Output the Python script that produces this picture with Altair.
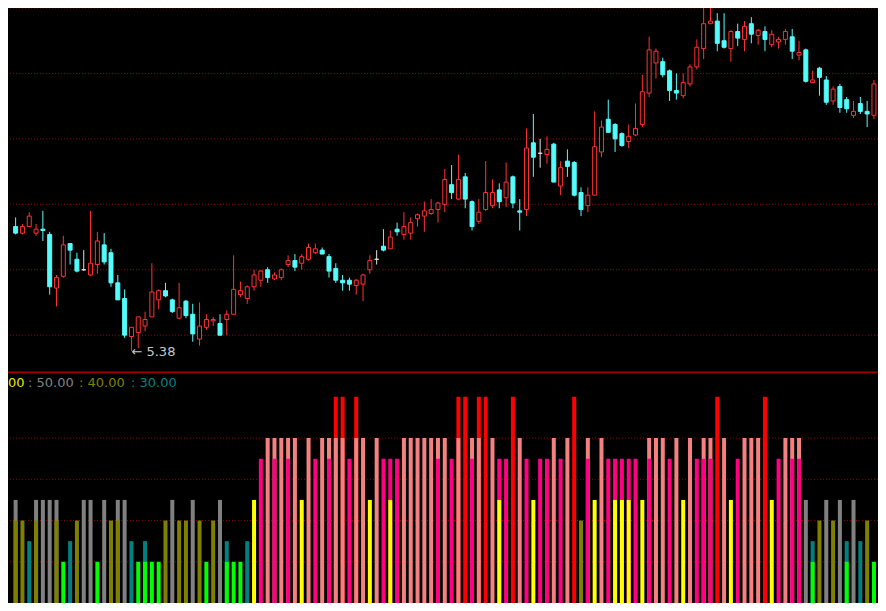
import altair as alt
import pandas as pd

# ---------------- data ----------------
opens = [6.33, 6.28, 6.33, 6.28, 6.31, 6.27, 5.86, 5.95, 6.20, 6.08,
         6.00, 5.96, 6.04, 6.19, 6.13, 5.90, 5.78, 5.49, 5.52, 5.57,
         5.64, 5.77, 5.84, 5.77, 5.63, 5.76, 5.66, 5.47, 5.56, 5.61,
         5.59, 5.62, 5.66, 5.81, 5.78, 5.87, 5.92, 6.00, 5.93, 5.94,
         6.04, 6.07, 6.05, 6.08, 6.13, 6.15, 6.10, 6.01, 5.92, 5.92,
         5.88, 5.89, 6.00, 6.08, 6.18, 6.16, 6.31, 6.27, 6.28, 6.39,
         6.41, 6.43, 6.46, 6.50, 6.65, 6.54, 6.71, 6.52, 6.37, 6.46,
         6.49, 6.61, 6.55, 6.71, 6.45, 6.46, 6.97, 6.89, 6.88, 6.96,
         6.64, 6.83, 6.82, 6.59, 6.49, 6.57, 6.90, 7.15, 7.11, 7.04,
         6.98, 7.03, 7.11, 7.35, 7.58, 7.59, 7.52, 7.37, 7.33, 7.42,
         7.55, 7.69, 7.88, 7.90, 7.75, 7.69, 7.82, 7.76, 7.88, 7.79,
         7.82, 7.72, 7.74, 7.76, 7.78, 7.64, 7.68, 7.43, 7.54, 7.45,
         7.29, 7.40, 7.30, 7.18, 7.27, 7.21, 7.18]
highs = [6.40, 6.35, 6.44, 6.35, 6.45, 6.29, 5.96, 6.26, 6.20, 6.13,
         6.15, 6.45, 6.29, 6.28, 6.16, 5.96, 5.85, 5.56, 5.64, 5.68,
         6.05, 5.85, 5.90, 5.78, 5.90, 5.77, 5.74, 5.75, 5.66, 5.64,
         5.66, 5.69, 6.11, 5.91, 5.88, 6.00, 6.00, 6.02, 5.98, 6.01,
         6.11, 6.12, 6.12, 6.20, 6.20, 6.17, 6.12, 6.05, 5.96, 5.94,
         5.93, 5.97, 6.11, 6.15, 6.31, 6.30, 6.36, 6.44, 6.40, 6.43,
         6.52, 6.54, 6.52, 6.77, 6.80, 6.88, 6.74, 6.53, 6.54, 6.83,
         6.69, 6.66, 6.82, 6.72, 6.54, 7.08, 7.19, 7.00, 7.02, 6.97,
         6.83, 6.92, 6.83, 6.63, 6.63, 7.21, 7.14, 7.30, 7.12, 7.05,
         7.11, 7.27, 7.49, 7.78, 7.69, 7.62, 7.53, 7.50, 7.50, 7.57,
         7.76, 8.05, 8.08, 7.96, 7.96, 7.83, 7.88, 7.90, 7.93, 7.84,
         7.86, 7.83, 7.78, 7.84, 7.84, 7.75, 7.69, 7.52, 7.55, 7.48,
         7.40, 7.42, 7.32, 7.29, 7.32, 7.29, 7.45]
lows = [6.27, 6.27, 6.33, 6.26, 6.22, 5.81, 5.72, 5.94, 6.04, 5.98,
        5.99, 5.95, 5.97, 6.04, 5.87, 5.77, 5.48, 5.38, 5.40, 5.53,
        5.64, 5.70, 5.79, 5.67, 5.62, 5.63, 5.45, 5.42, 5.54, 5.57,
        5.50, 5.50, 5.66, 5.79, 5.74, 5.84, 5.87, 5.90, 5.92, 5.92,
        6.02, 5.99, 6.00, 6.07, 6.12, 6.12, 5.94, 5.90, 5.84, 5.84,
        5.81, 5.76, 5.97, 6.04, 6.14, 6.16, 6.26, 6.23, 6.23, 6.33,
        6.29, 6.42, 6.36, 6.44, 6.54, 6.53, 6.47, 6.30, 6.35, 6.45,
        6.47, 6.47, 6.48, 6.47, 6.30, 6.41, 6.71, 6.78, 6.81, 6.67,
        6.57, 6.71, 6.56, 6.41, 6.44, 6.57, 6.86, 7.05, 6.90, 6.94,
        6.93, 7.02, 7.09, 7.32, 7.46, 7.47, 7.29, 7.30, 7.31, 7.40,
        7.53, 7.61, 7.88, 7.67, 7.69, 7.59, 7.71, 7.67, 7.73, 7.72,
        7.67, 7.70, 7.69, 7.72, 7.61, 7.60, 7.43, 7.43, 7.33, 7.26,
        7.26, 7.20, 7.20, 7.16, 7.19, 7.09, 7.15]
closes = [6.28, 6.33, 6.41, 6.31, 6.30, 5.87, 5.94, 6.19, 6.15, 5.99,
          6.00, 6.05, 6.22, 6.06, 5.90, 5.77, 5.50, 5.56, 5.64, 5.62,
          5.83, 5.84, 5.80, 5.68, 5.71, 5.65, 5.51, 5.57, 5.62, 5.62,
          5.50, 5.66, 5.85, 5.84, 5.87, 5.96, 5.99, 5.94, 5.96, 6.00,
          6.07, 6.02, 6.10, 6.17, 6.16, 6.12, 5.99, 5.92, 5.90, 5.89,
          5.92, 5.96, 6.07, 6.08, 6.15, 6.25, 6.29, 6.33, 6.36, 6.42,
          6.45, 6.46, 6.51, 6.69, 6.59, 6.69, 6.54, 6.33, 6.44, 6.59,
          6.59, 6.52, 6.67, 6.51, 6.44, 6.93, 6.86, 6.89, 6.92, 6.67,
          6.78, 6.79, 6.57, 6.46, 6.57, 6.94, 7.09, 7.05, 7.00, 6.95,
          7.02, 7.08, 7.36, 7.68, 7.67, 7.49, 7.37, 7.35, 7.43, 7.55,
          7.70, 7.88, 7.90, 7.73, 7.70, 7.82, 7.77, 7.86, 7.80, 7.83,
          7.76, 7.80, 7.76, 7.82, 7.67, 7.66, 7.44, 7.45, 7.47, 7.28,
          7.38, 7.24, 7.23, 7.21, 7.21, 7.19, 7.42]

# indicator: letters = overlaid bar levels shown on each day
ind_codes = ["go", "o", "t", "go", "g", "g", "go", "n", "t", "o",
             "g", "g", "n", "g", "o", "go", "g", "t", "n", "tn",
             "n", "n", "o", "g", "o", "o", "g", "o", "n", "o",
             "g", "tn", "n", "n", "t", "y", "p", "s", "sp", "s",
             "sp", "s", "y", "s", "p", "s", "sp", "rs", "rs", "p",
             "rs", "s", "y", "s", "p", "py", "p", "s", "s", "s",
             "s", "s", "sp", "s", "p", "rs", "r", "sp", "rs", "r",
             "s", "py", "p", "r", "s", "p", "y", "p", "p", "s",
             "p", "s", "r", "o", "sp", "y", "s", "p", "py", "py",
             "py", "p", "y", "sp", "s", "s", "p", "s", "y", "s",
             "p", "sp", "sp", "r", "s", "y", "p", "s", "s", "s",
             "r", "y", "p", "s", "sp", "sp", "g", "tn", "o", "g",
             "o", "g", "tn", "g", "t", "o", "n"]
ind_kinds = ["r", "s", "p", "y", "g", "o", "t", "n"]
ind_levels = [100, 80, 70, 50, 50, 40, 30, 20]
ind_colors = ["#ff0000", "#f58080", "#ff0080", "#ffff00",
              "#808080", "#808000", "#008080", "#00ff00"]

price_grid = [5.5, 6.0, 6.5, 7.0, 7.5, 8.0]
ind_grid = [20, 40, 60, 80]
legend_labels = ["00", ": 50.00", ": 40.00", ": 30.00"]
legend_colors = ["#e8e800", "#808080", "#808000", "#008080"]

# ---------------- layout ----------------
W, H = 870, 595
X_DOMAIN = [0.615, 126.86]
PRICE_DOMAIN = [5.2173, 8.0]
PRICE_RANGE = [364.2, 0]
IND_DOMAIN = [0, 100]
IND_RANGE = [595, 388.85]

n = len(opens)
df = pd.DataFrame({"i": list(range(1, n + 1)), "open": opens, "high": highs,
                   "low": lows, "close": closes})
df["dir"] = ["up" if c > o else ("down" if c < o else "flat")
             for o, c in zip(df["open"], df["close"])]
df["top"] = df[["open", "close"]].max(axis=1)
df["bot"] = df[["open", "close"]].min(axis=1)

lvl = dict(zip(ind_kinds, ind_levels))
rows = []
for i, code in enumerate(ind_codes, start=1):
    for ch in code:
        rows.append({"i": i, "level": lvl[ch], "kind": ch})
ind_df = pd.DataFrame(rows).sort_values("level", ascending=False, kind="stable")

xs = alt.Scale(domain=X_DOMAIN, range=[0, W], nice=False, zero=False)
ps = alt.Scale(domain=PRICE_DOMAIN, range=PRICE_RANGE, nice=False, zero=False)
iscale = alt.Scale(domain=IND_DOMAIN, range=IND_RANGE, nice=False, zero=True)
X = alt.X("i:Q", scale=xs, axis=None)

dir_stroke = alt.Scale(domain=["up", "down", "flat"], range=["#ff3232", "#54fcfc", "#e0e0e0"])
dir_fill = alt.Scale(domain=["up", "down", "flat"], range=["#000000", "#54fcfc", "#e0e0e0"])

pgrid = alt.Chart(pd.DataFrame({"p": price_grid})).mark_rule(
    color="#8c0000", strokeDash=[1, 2], strokeWidth=1
).encode(y=alt.Y("p:Q", scale=ps, axis=None))

sep = alt.Chart(pd.DataFrame({"p": [PRICE_DOMAIN[0]]})).mark_rule(
    color="#a00000", strokeWidth=1.5
).encode(y=alt.Y("p:Q", scale=ps, axis=None))

wick = alt.Chart(df).mark_rule(strokeWidth=1, clip=True).encode(
    x=X,
    y=alt.Y("low:Q", scale=ps, axis=None),
    y2="high:Q",
    stroke=alt.Stroke("dir:N", scale=dir_stroke, legend=None),
)

body = alt.Chart(df).mark_bar(size=4, strokeWidth=1, clip=True).encode(
    x=X,
    y=alt.Y("bot:Q", scale=ps, axis=None),
    y2="top:Q",
    fill=alt.Fill("dir:N", scale=dir_fill, legend=None),
    stroke=alt.Stroke("dir:N", scale=dir_stroke, legend=None),
)

low_row = df.loc[[df["low"].idxmin()], ["i", "low"]].copy()
low_row["label"] = ["\u2190 %.2f" % v for v in low_row["low"]]
low_label = alt.Chart(low_row).mark_text(
    align="left", baseline="middle", fontSize=13, font="DejaVu Sans",
    color="#c8c8c8", dy=1
).encode(x=X, y=alt.Y("low:Q", scale=ps, axis=None), text="label:N")

price_layer = alt.layer(pgrid, sep, wick, body, low_label)

igrid = alt.Chart(pd.DataFrame({"v": ind_grid})).mark_rule(
    color="#8c0000", strokeDash=[1, 2], strokeWidth=1
).encode(y=alt.Y("v:Q", scale=iscale, axis=None))

ibars = alt.Chart(ind_df).mark_bar(size=4, clip=True).encode(
    x=X,
    y=alt.Y("level:Q", scale=iscale, axis=None, stack=None),
    color=alt.Color("kind:N", scale=alt.Scale(domain=ind_kinds, range=ind_colors), legend=None),
    order=alt.Order("level:Q", sort="descending"),
)

ind_layer = alt.layer(igrid, ibars)

legend_x = [0, 20, 71, 123]
legend_marks = []
for lab, col, px in zip(legend_labels, legend_colors, legend_x):
    legend_marks.append(
        alt.Chart(pd.DataFrame({"t": [lab]})).mark_text(
            align="left", baseline="middle", fontSize=13, font="DejaVu Sans", color=col
        ).encode(x=alt.value(px), y=alt.value(375), text="t:N")
    )
legend_layer = alt.layer(*legend_marks)

chart = alt.layer(price_layer, ind_layer, legend_layer).resolve_scale(
    y="independent", color="independent"
).properties(
    width=W, height=H, background="#000000", padding=0,
    autosize=alt.AutoSizeParams(type="none"),
).configure_view(stroke=None)

chart.save("out.html", embed_options={"renderer": "svg", "actions": False})
